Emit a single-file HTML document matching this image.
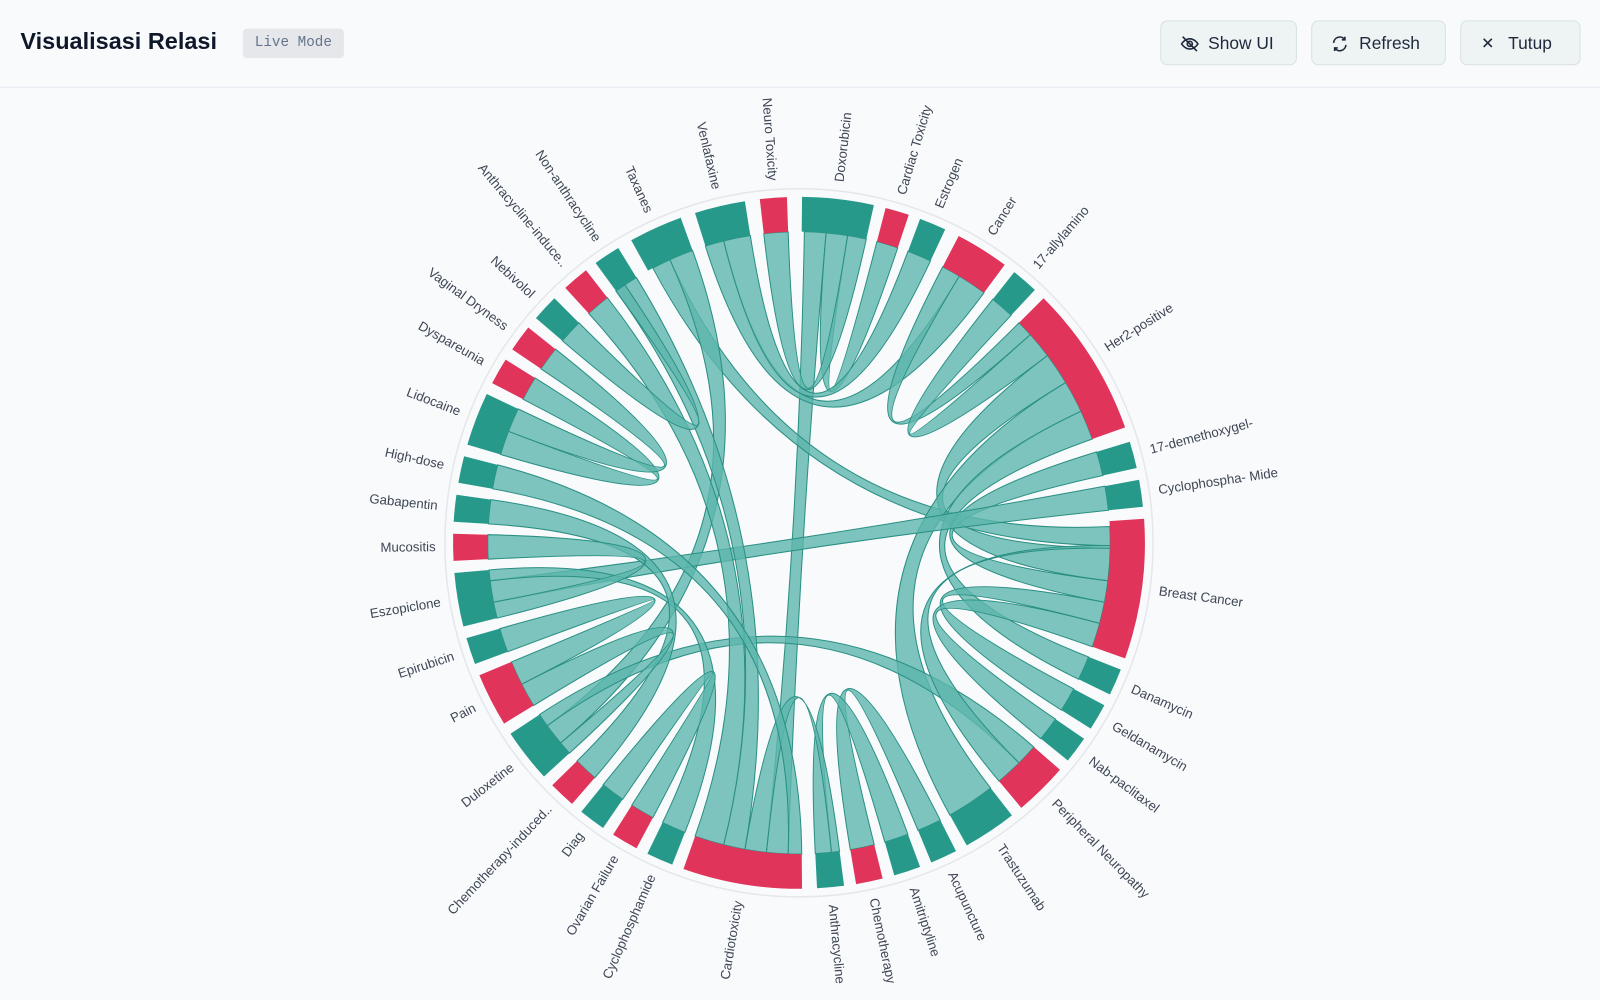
<!DOCTYPE html>
<html><head><meta charset="utf-8">
<style>
html,body{margin:0;padding:0;width:1600px;height:1000px;background:#f8fafc;overflow:hidden;font-family:"Liberation Sans",sans-serif}
#w{position:absolute;left:0;top:0;width:1568px;height:980px;transform:scale(1.0204);transform-origin:0 0}
.hdr{position:absolute;left:0;top:0;width:1568px;height:85px;border-bottom:1px solid #e2e8f0;background:#f8fafc}
.title{position:absolute;left:20px;top:27px;font-size:23px;font-weight:bold;color:#0f172a}
.badge{position:absolute;left:238px;top:28px;width:99px;height:29px;background:#e5e7eb;border-radius:4px;font-family:"Liberation Mono",monospace;font-size:14px;color:#64748b;line-height:29px;text-align:center}
.btn{position:absolute;top:20px;height:44px;border:1px solid #d7e3e3;border-radius:7px;background:#eef3f4;font-size:17px;color:#1e293b;line-height:44px;box-sizing:border-box;padding-left:46px}
.btn svg{position:absolute;left:19px;top:14px}
</style></head><body>
<div id="w">
<div class="hdr">
<div class="title">Visualisasi Relasi</div>
<div class="badge">Live Mode</div>
<div class="btn" style="left:1137px;width:134px"><svg width="18" height="16" viewBox="0 0 18 16" fill="none" stroke="#1e293b" stroke-width="1.6"><path d="M1 8s3-5 8-5 8 5 8 5-3 5-8 5-8-5-8-5z"/><circle cx="9" cy="8" r="2.5"/><path d="M2 1l14 14"/></svg>Show UI</div>
<div class="btn" style="left:1285px;width:132px"><svg width="16" height="16" viewBox="0 0 16 16" fill="none" stroke="#1e293b" stroke-width="1.6"><path d="M2 7a6 6 0 0 1 11-3M14 9a6 6 0 0 1-11 3"/><path d="M13 1v3h-3M3 15v-3h3"/></svg>Refresh</div>
<div class="btn" style="left:1431px;width:118px"><svg width="14" height="14" viewBox="0 0 14 14" stroke="#1e293b" stroke-width="1.6"><path d="M3 3l8 8M11 3l-8 8"/></svg>Tutup</div>
</div>
<svg id="c" width="1568" height="980" style="position:absolute;left:0;top:0"></svg>
</div>
<script>
var cx=783,cy=532,R=305,RO=339;
var T="#26998a",Rd="#e1345a";
var A=[
["Doxorubicin",0.5,12.5,T],["Cardiac Toxicity",14.5,18.5,Rd],["Estrogen",20.5,25,T],["Cancer",27.5,36.5,Rd],
["17-allylamino",38.5,43,T],["Her2-positive",45,70.5,Rd],["17-demethoxygel-",73,77.5,T],["Cyclophospha- Mide",79.5,84,T],
["Breast Cancer",86,109.5,Rd],["Danamycin",111.5,116,T],["Geldanamycin",118,122.5,T],["Nab-paclitaxel",124.5,129,T],
["Peripheral Neuropathy",131,140,Rd],["Trastuzumab",142,151,T],["Acupuncture",153,157.5,T],["Amitriptyline",159.5,164,T],
["Chemotherapy",166,170.5,Rd],["Anthracycline",172.5,177,T],["Cardiotoxicity",179.5,199.5,Rd],["Cyclophosphamide",201.5,206,T],
["Ovarian Failure",208,212.5,Rd],["Diag",214.5,219,T],["Chemotherapy-induced..",221,225.5,Rd],["Duloxetine",227.5,236.5,T],
["Pain",238.5,247.5,Rd],["Epirubicin",249.5,254,T],["Eszopiclone",256,265,T],["Mucositis",267,271.5,Rd],
["Gabapentin",273.5,278,T],["High-dose",280,284.5,T],["Lidocaine",286.5,295.5,T],["Dyspareunia",297.5,302,Rd],
["Vaginal Dryness",304,308.5,Rd],["Nebivolol",310.5,315,T],["Anthracycline-induce..",317.5,322,Rd],["Non-anthracycline",324,328.5,T],
["Taxanes",331,340,T],["Venlafaxine",342.5,351,T],["Neuro Toxicity",353.5,358,Rd]];
function p(a,r){var t=a*Math.PI/180;return [(cx+r*Math.sin(t)).toFixed(1),(cy-r*Math.cos(t)).toFixed(1)];}
var L=[
[1,5,182,186],[5,9,14.5,18.5],[9,12.5,353.5,358],[342.5,346,31,36.5],[346,351,20.5,25],
[332,335.5,87,90.5],[335.5,340,230,234],[27.5,31,45,48],[38.5,43,48,53],[53,59,91,97],[59,65,142,151],
[65,70.5,111.5,116],[73,77.5,97,101],[79.5,84,259,263],[101,105,118,122.5],[105,109.5,124.5,129],
[131,135,234,236.5],[135,140,90.5,91],[153,157.5,166,170.5],[159.5,164,174,177],[172.5,174,186,190],
[190,194,324,328.5],[194,199.5,317.5,322],[201.5,206,263,265],[208,212.5,214.5,219],[221,225.5,273.5,278],
[227.5,230,238.5,243],[243,247.5,249.5,254],[256,259,267,271.5],[280,284.5,179.5,182],[286.5,291,297.5,302],
[291,295.5,304,308.5],[310.5,315,324,326]];
var s='<circle cx="'+cx+'" cy="'+cy+'" r="347" fill="none" stroke="#e5e7eb" stroke-width="1.5"/>';
L.forEach(function(l){var a1=p(l[0],R),a2=p(l[1],R),b1=p(l[2],R),b2=p(l[3],R);
s+='<path d="M'+a1+' A'+R+' '+R+' 0 0 1 '+a2+' Q'+cx+' '+cy+' '+b1+' A'+R+' '+R+' 0 0 1 '+b2+' Q'+cx+' '+cy+' '+a1+'Z" fill="#5cb7ac" fill-opacity="0.8" stroke="#2a8f83" stroke-width="1"/>';});
A.forEach(function(a){var o1=p(a[1],RO),o2=p(a[2],RO),i1=p(a[1],R),i2=p(a[2],R);
s+='<path d="M'+o1+' A'+RO+' '+RO+' 0 0 1 '+o2+' L'+i2+' A'+R+' '+R+' 0 0 0 '+i1+'Z" fill="'+a[3]+'"/>';
var m=(a[1]+a[2])/2,q=p(m,356),right=m<180;
var rot=right?m-90:m+90;
s+='<text x="'+q[0]+'" y="'+q[1]+'" transform="rotate('+rot.toFixed(1)+' '+q[0]+' '+q[1]+')" text-anchor="'+(right?'start':'end')+'" dominant-baseline="middle" font-size="13" fill="#3f4654" font-family="Liberation Sans,sans-serif">'+a[0]+'</text>';});
document.getElementById('c').innerHTML=s;
</script>
</body></html>
